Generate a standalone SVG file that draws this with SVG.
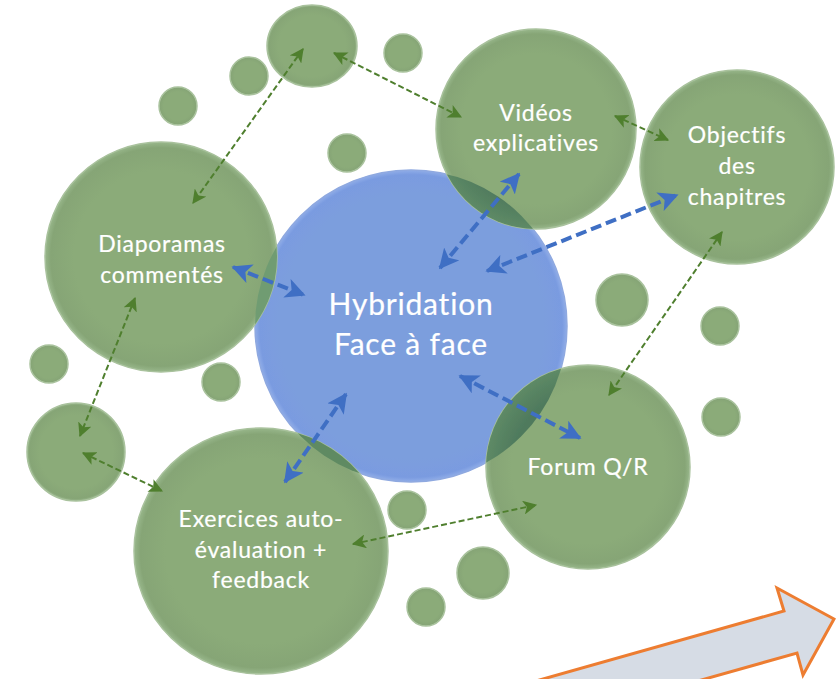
<svg xmlns="http://www.w3.org/2000/svg" width="836" height="679" viewBox="0 0 836 679">
<style>
.g{fill:url(#gg);stroke:#a9c29d;stroke-width:1.5;filter:url(#s)}
.b{fill:url(#bg);stroke:#8fa9e0;stroke-width:1.5;filter:url(#s)}
.o{fill:url(#og);filter:url(#s)}
.t{font-family:Lato,"Open Sans","Liberation Sans",sans-serif;fill:#fff;font-size:23px;letter-spacing:.75px;text-anchor:middle;stroke:#fff;stroke-width:.2px}
.c{font-size:30px;letter-spacing:.8px}
.ag{fill:none;stroke:#4f7f2e;stroke-width:2;stroke-dasharray:6 3;marker-start:url(#mg);marker-end:url(#mg)}
.ab{fill:none;stroke:#3f6fc4;stroke-width:4;stroke-dasharray:11 5;marker-start:url(#mb);marker-end:url(#mb)}
</style>
<defs>
<filter id="s" x="-5%" y="-5%" width="110%" height="110%"><feGaussianBlur stdDeviation="0.7"/></filter>
<radialGradient id="gg"><stop offset="0.75" stop-color="#8bab79"/><stop offset="0.95" stop-color="#86a576"/><stop offset="1" stop-color="#98b78b"/></radialGradient>
<radialGradient id="og"><stop offset="0.75" stop-color="#4f7a5d"/><stop offset="1" stop-color="#5e8a66"/></radialGradient>
<radialGradient id="bg"><stop offset="0.85" stop-color="#7c9edd"/><stop offset="0.97" stop-color="#7a9be0"/><stop offset="1" stop-color="#90ade8"/></radialGradient>
<marker id="mg" viewBox="0 0 12 12" refX="11" refY="6" markerWidth="7" markerHeight="7" orient="auto-start-reverse"><path d="M0 0L12 6L0 12L3 6Z" fill="#4f7f2e"/></marker>
<marker id="mb" viewBox="0 0 12 12" refX="11" refY="6" markerWidth="5" markerHeight="5" orient="auto-start-reverse"><path d="M0 0L12 6L0 12L3 6Z" fill="#3f6fc4"/></marker>
<clipPath id="cb"><circle cx="411" cy="326" r="156"/></clipPath>
</defs>
<g id="hybridation"><circle class="b" cx="411" cy="326" r="156"/></g>
<g id="bulle-1"><ellipse class="g" cx="312" cy="46" rx="45" ry="41"/></g>
<g id="bulle-2"><circle class="g" cx="403" cy="53" r="19"/></g>
<g id="bulle-3"><circle class="g" cx="249" cy="76" r="19"/></g>
<g id="bulle-4"><circle class="g" cx="178" cy="106" r="19"/></g>
<g id="bulle-5"><circle class="g" cx="347" cy="153" r="19"/></g>
<g id="bulle-6"><circle class="g" cx="622" cy="300" r="26"/></g>
<g id="bulle-7"><circle class="g" cx="720" cy="326" r="19"/></g>
<g id="bulle-8"><circle class="g" cx="721" cy="417" r="19"/></g>
<g id="bulle-9"><circle class="g" cx="49" cy="364" r="19"/></g>
<g id="bulle-10"><circle class="g" cx="221" cy="382" r="19"/></g>
<g id="bulle-11"><circle class="g" cx="76" cy="452" r="49"/></g>
<g id="bulle-12"><circle class="g" cx="407" cy="510" r="19"/></g>
<g id="bulle-13"><circle class="g" cx="483" cy="573" r="26"/></g>
<g id="bulle-14"><circle class="g" cx="426" cy="607" r="19"/></g>
<g id="videos"><circle class="g" cx="536" cy="129" r="100"/><g clip-path="url(#cb)"><circle class="o" cx="536" cy="129" r="100"/></g></g>
<g id="objectifs"><circle class="g" cx="737" cy="167" r="97"/></g>
<g id="diaporamas"><ellipse class="g" cx="161" cy="257" rx="116" ry="115"/><g clip-path="url(#cb)"><ellipse class="o" style="fill:#6f9c72" cx="161" cy="257" rx="116" ry="115"/></g></g>
<g id="exercices"><ellipse class="g" cx="261" cy="551" rx="127" ry="123"/><g clip-path="url(#cb)"><ellipse class="o" style="fill:#5f8a62" cx="261" cy="551" rx="127" ry="123"/></g></g>
<g id="forum"><circle class="g" cx="588" cy="467" r="102"/><g clip-path="url(#cb)"><circle class="o" cx="588" cy="467" r="102"/></g></g>
<g id="connecteurs">
<path class="ag" d="M303 49L193 203"/>
<path class="ag" d="M334 53L461 117"/>
<path class="ag" d="M615 116L668 140"/>
<path class="ag" d="M722 232L609 395"/>
<path class="ag" d="M135 298L80 436"/>
<path class="ag" d="M83 453L162 491"/>
<path class="ag" d="M353 544L536 505"/>
<path class="ab" d="M233 267L304 295"/>
<path class="ab" d="M440 268L519 174"/>
<path class="ab" d="M487 271L677 195"/>
<path class="ab" d="M460 376L580 438"/>
<path class="ab" d="M285 482L346 394"/>
</g>
<g id="textes">
<text class="t" x="536" y="121">Vidéos</text><text class="t" x="536" y="151">explicatives</text>
<text class="t" x="737" y="143">Objectifs</text><text class="t" x="737" y="174">des</text><text class="t" x="737" y="205">chapitres</text>
<text class="t" x="162" y="252">Diaporamas</text><text class="t" x="162" y="283">commentés</text>
<text class="t c" x="411" y="315">Hybridation</text><text class="t c" x="411" y="355">Face à face</text>
<text class="t" x="588" y="475">Forum Q/R</text>
<text class="t" x="261" y="527">Exercices auto-</text><text class="t" x="261" y="558">évaluation +</text><text class="t" x="261" y="588">feedback</text>
</g>
<g id="fleche"><path d="M834 619L777 588L784 611L504 690H666L797 653L803 675Z" fill="#d6dce5" stroke="#ed7d31" stroke-width="3"/></g>
</svg>
